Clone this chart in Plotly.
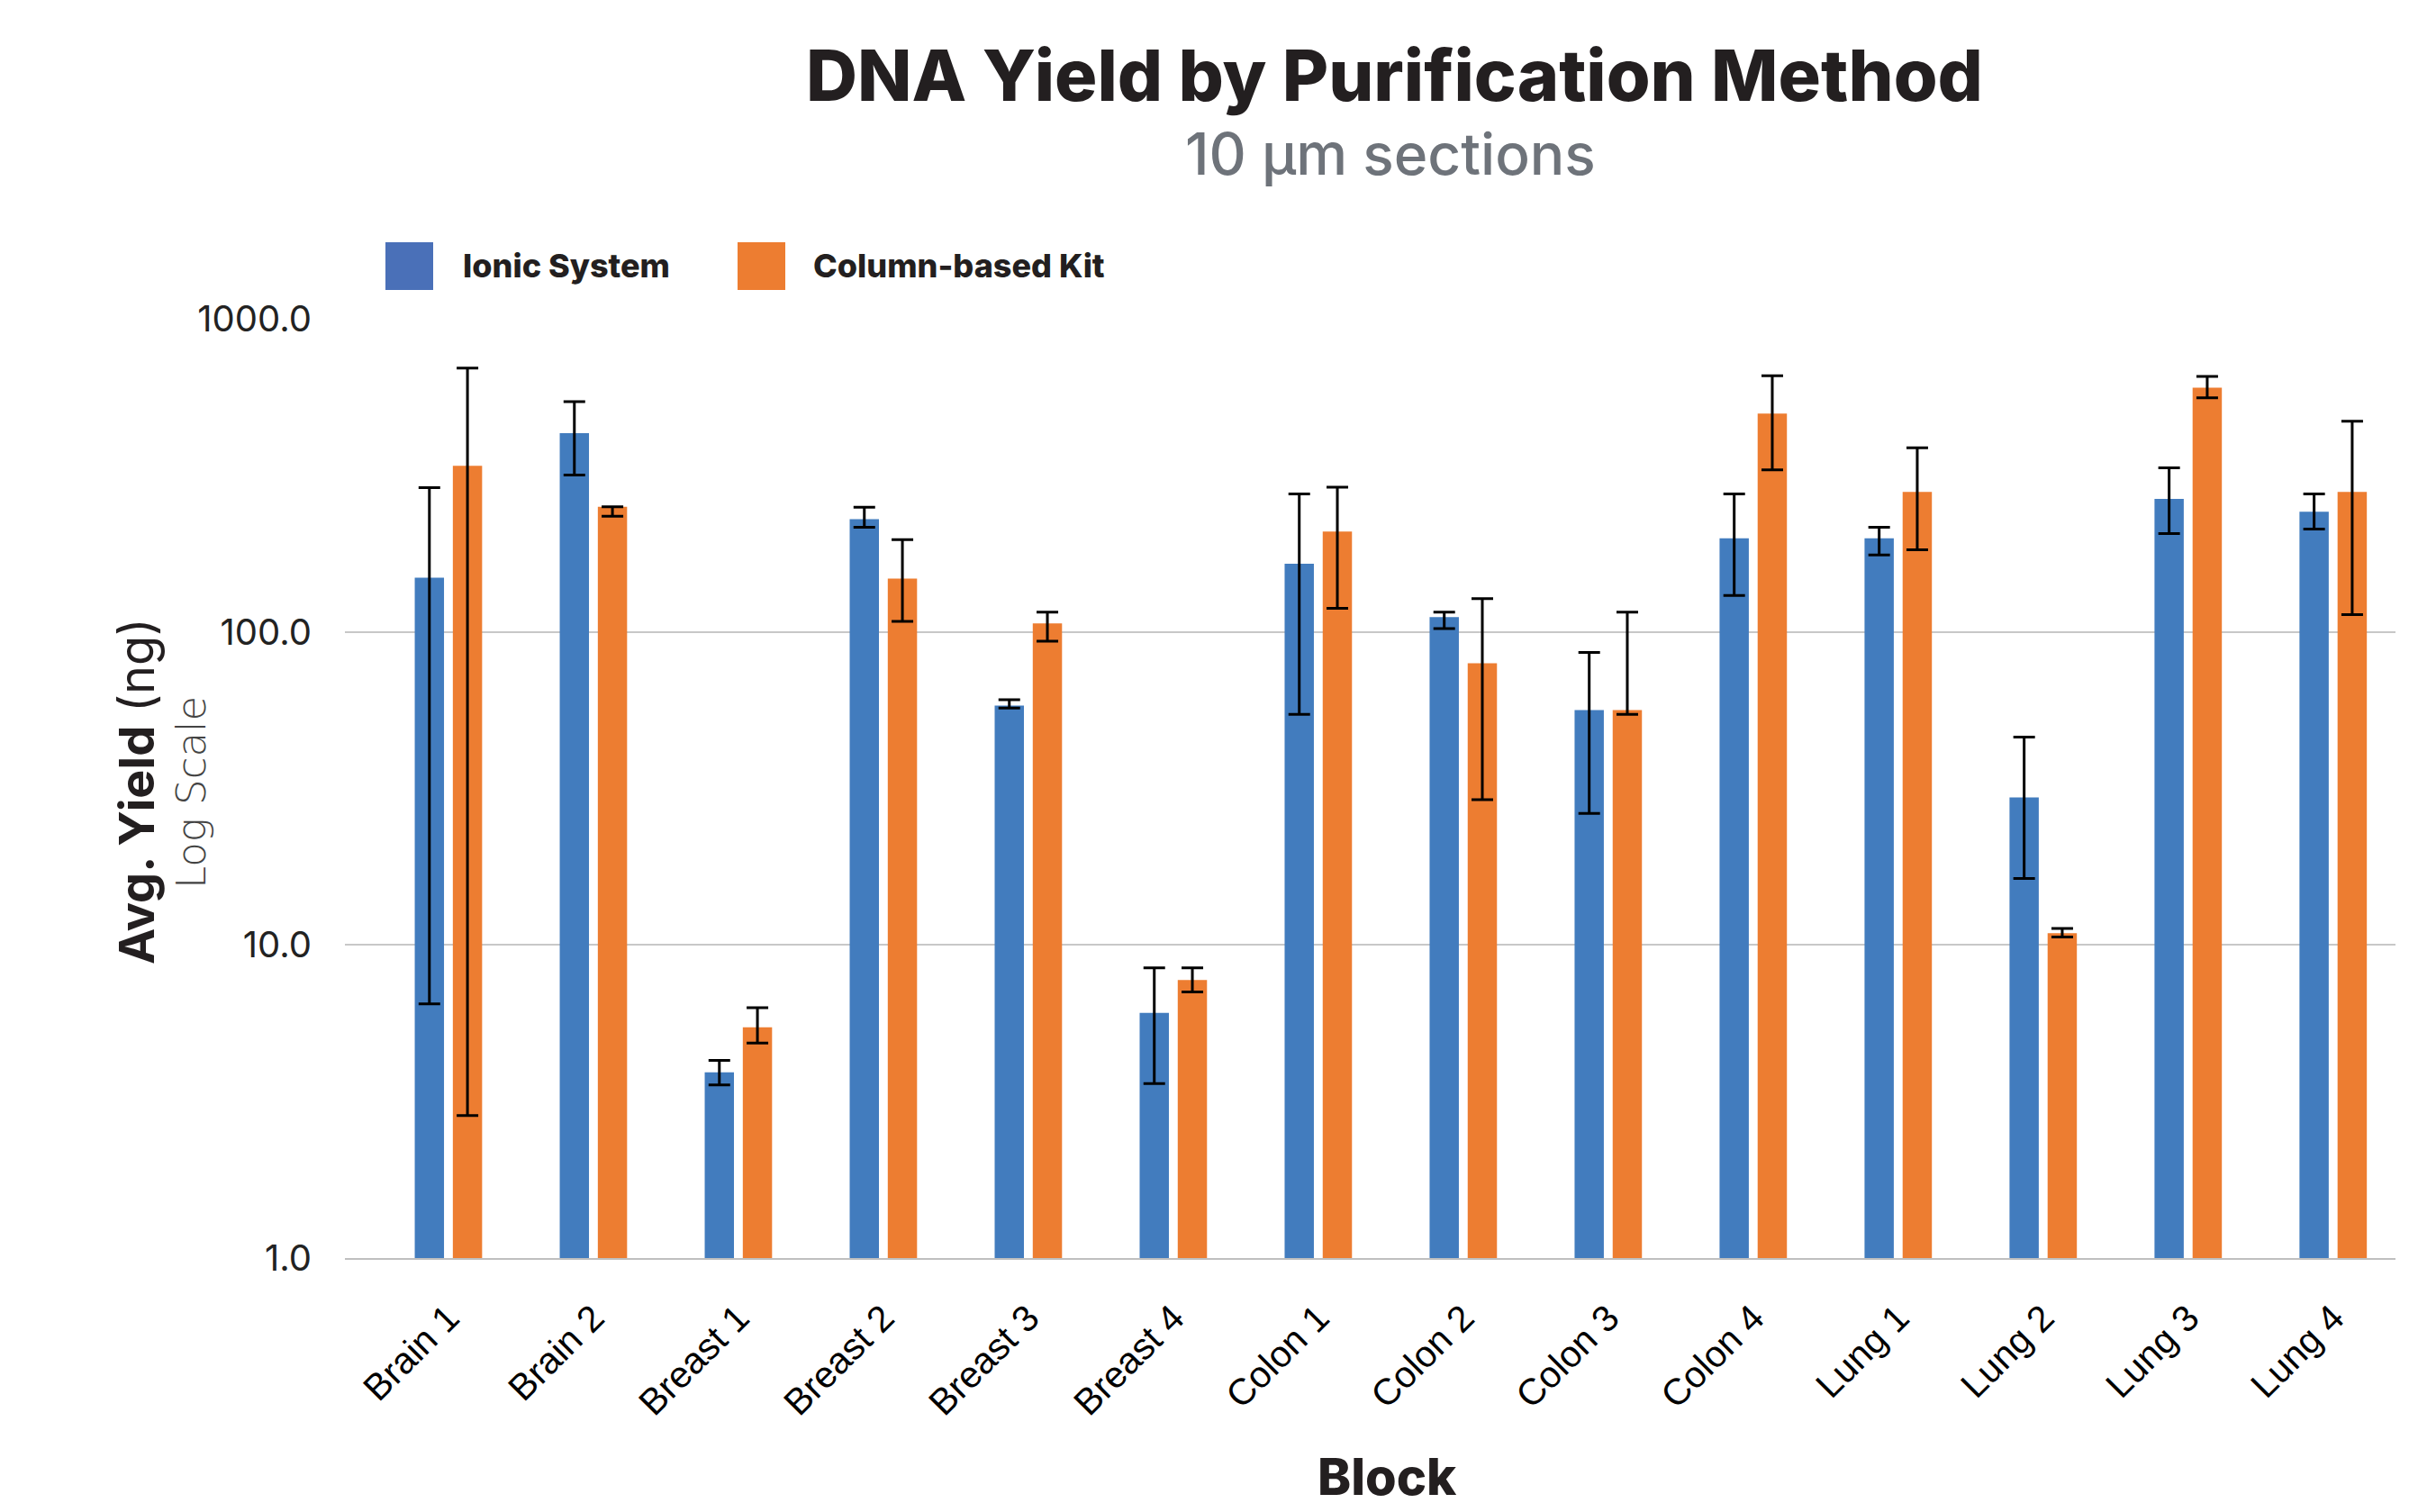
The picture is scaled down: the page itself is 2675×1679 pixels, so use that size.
import plotly.graph_objects as go

# ---- data -------------------------------------------------------------
blocks = ["Brain 1", "Brain 2", "Breast 1", "Breast 2", "Breast 3", "Breast 4",
          "Colon 1", "Colon 2", "Colon 3", "Colon 4",
          "Lung 1", "Lung 2", "Lung 3", "Lung 4"]

# Ionic System: mean yield (ng) and error-bar endpoints
ionic_mean = [149, 431, 3.92, 229, 58.2, 6.07, 165, 111.5, 56.3, 199, 199, 29.6, 266, 242]
ionic_high = [289, 544, 4.28, 250, 60.7, 8.45, 276, 115.7, 86.0, 276, 216, 46.1, 334, 276]
ionic_low = [6.48, 317, 3.57, 216, 57.1, 3.61, 54.5, 102.5, 26.3, 130.6, 176, 16.3, 206, 213]

# Column-based Kit: mean yield (ng) and error-bar endpoints
column_mean = [339, 251, 5.46, 148, 106.4, 7.73, 209, 79.4, 56.3, 498, 280, 10.9, 603, 280]
column_high = [696, 251, 6.30, 197, 115.7, 8.45, 290, 127.6, 115.7, 658, 387, 11.3, 655, 471]
column_low = [2.85, 234, 4.86, 108, 93.4, 7.08, 119, 29.1, 54.5, 329, 183, 10.6, 559, 113.6]

y_tickvals = [1, 10, 100, 1000]
y_ticktext = ["1.0", "10.0", "100.0", "1000.0"]

series_names = ["Ionic System", "Column-based Kit"]

# ---- styling ----------------------------------------------------------
W, H = 2675, 1679
L, R, T, B = 383, 15, 354, 282
plot_w = W - L - R
plot_h = H - T - B

BAR_BLUE = "#427CBE"
BAR_ORANGE = "#ED7D31"
KEY_BLUE = "#4A70B8"
KEY_ORANGE = "#ED7D31"
INK = "#231F20"
FONT = "Inter"


def px_x(x):
    return (x - L) / plot_w


def px_y(y):
    return (H - B - y) / plot_h


def err(mean, high, low):
    return dict(type="data", symmetric=False,
                array=[h - m for m, h in zip(mean, high)],
                arrayminus=[m - lo for m, lo in zip(mean, low)],
                color="black", thickness=3, width=12)


fig = go.Figure()
fig.add_trace(go.Bar(x=blocks, y=ionic_mean, name=series_names[0],
                     marker=dict(color=BAR_BLUE, line=dict(width=0)),
                     error_y=err(ionic_mean, ionic_high, ionic_low),
                     showlegend=False))
fig.add_trace(go.Bar(x=blocks, y=column_mean, name=series_names[1],
                     marker=dict(color=BAR_ORANGE, line=dict(width=0)),
                     error_y=err(column_mean, column_high, column_low),
                     showlegend=False))

annotations = [
    dict(text="DNA Yield by Purification Method", x=px_x(1548), y=px_y(82.5),
         font=dict(family=FONT, size=79, color=INK, weight=800)),
    dict(text="10 µm sections", x=px_x(1544), y=px_y(170.5),
         font=dict(family=FONT, size=64, color="#6E737A", weight=500)),
    dict(text="<b>Avg. Yield</b> (ng)", x=px_x(151), y=px_y(879), textangle=-90,
         font=dict(family=FONT, size=54, color=INK)),
    dict(text="Log Scale", x=px_x(212), y=px_y(880), textangle=-90,
         font=dict(family="DejaVu Sans", size=45, color="#444444", weight=200)),
    dict(text="Block", x=px_x(1540), y=px_y(1639.5),
         font=dict(family=FONT, size=56, color=INK, weight=800)),
]
for a in annotations:
    a.update(xref="paper", yref="paper", showarrow=False,
             xanchor="center", yanchor="middle")

# legend keys
shapes = []
for name, color, x0, tx in [(series_names[0], KEY_BLUE, 428, 512),
                            (series_names[1], KEY_ORANGE, 819, 901)]:
    shapes.append(dict(type="rect", xref="paper", yref="paper",
                       x0=px_x(x0), x1=px_x(x0 + 53), y0=px_y(322), y1=px_y(269),
                       fillcolor=color, line=dict(width=0)))
    annotations.append(dict(text=name, xref="paper", yref="paper", showarrow=False,
                            x=px_x(tx), y=px_y(295), xanchor="left", yanchor="middle",
                            font=dict(family=FONT, size=36, color=INK, weight=800)))

fig.update_layout(
    width=W, height=H,
    margin=dict(l=L, r=R, t=T, b=B, autoexpand=False),
    paper_bgcolor="white", plot_bgcolor="white",
    barmode="group", bargap=0.4745, bargroupgap=0.232,
    shapes=shapes, annotations=annotations,
    showlegend=False,
)
fig.update_xaxes(
    type="category", range=[-0.714, 13.43],
    tickangle=-45, ticks="", ticklabelstandoff=24,
    tickfont=dict(family="Liberation Sans", size=41, color="black"),
    showline=True, linecolor="#BFBFBF", linewidth=2,
    showgrid=False,
)
fig.update_yaxes(
    type="log", range=[0, 3],
    tickvals=y_tickvals, ticktext=y_ticktext,
    ticks="", ticklabelstandoff=36,
    tickfont=dict(family=FONT, size=40, color="#222222"),
    showgrid=True, gridcolor="#C8C8C8", gridwidth=2,
    showline=False, zeroline=False,
)

fig.write_html("out.html")
